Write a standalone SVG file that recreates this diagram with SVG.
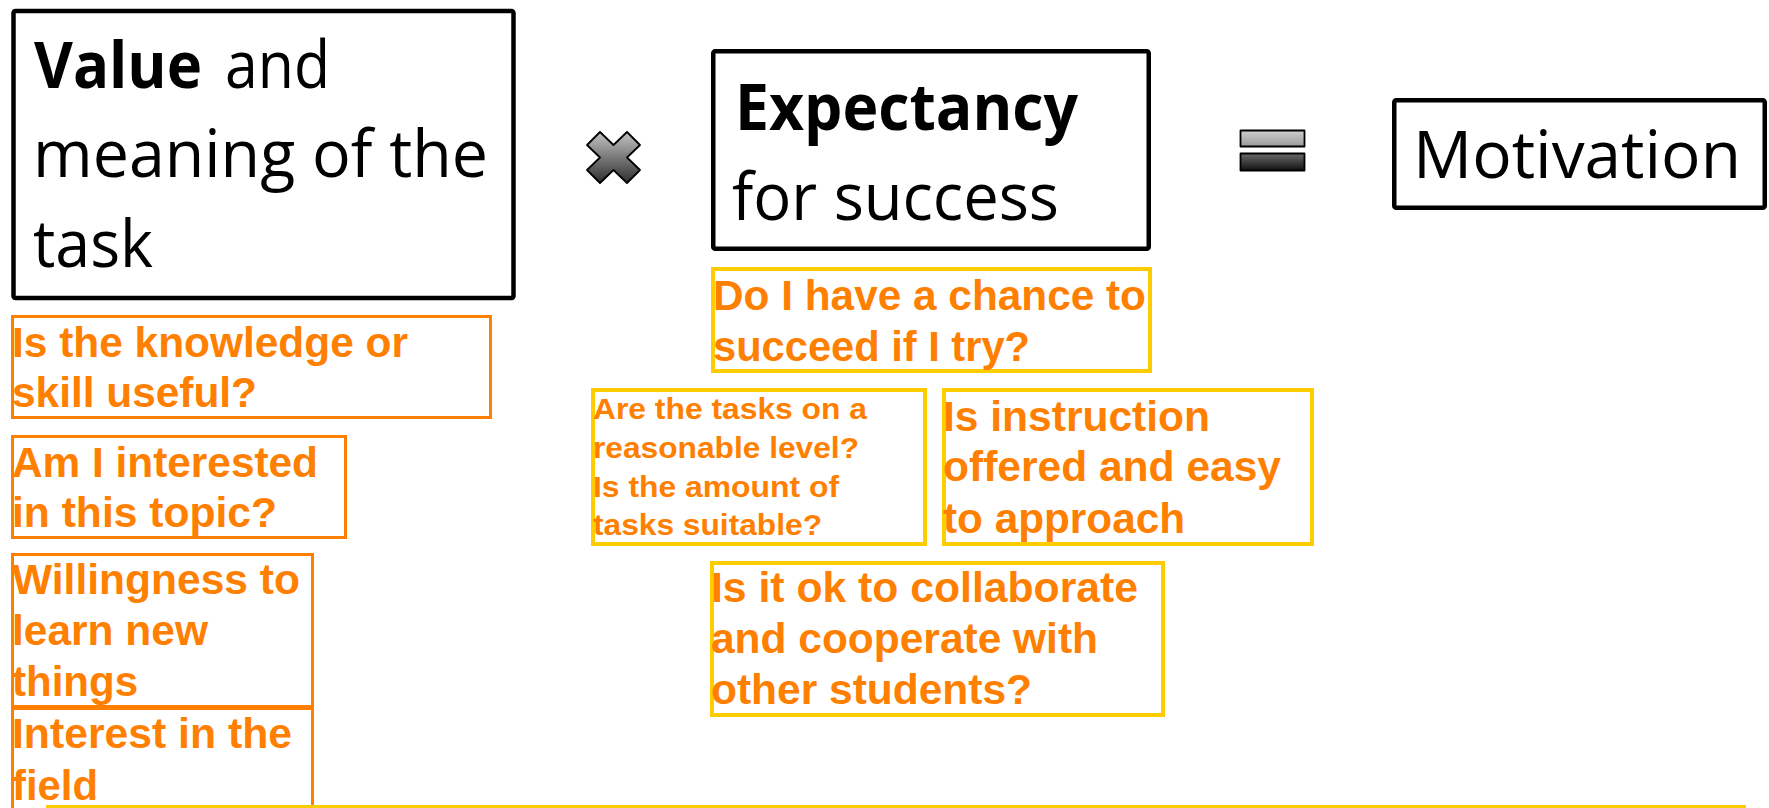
<svg xmlns="http://www.w3.org/2000/svg" width="1769" height="808" viewBox="0 0 1769 808">
  <style>
    .main { fill: #ffffff; stroke: #000000; stroke-width: 4.5; }
    .ask { fill: #ffffff; stroke: #ff8000; stroke-width: 3; }
    .hint { fill: #ffffff; stroke: #ffcc00; stroke-width: 4; }
    .big { font-family: "Open Sans", "Noto Sans", sans-serif; font-size: 65px; fill: #000000; }
    .big .b { font-weight: 700; }
    .q { font-family: "Liberation Sans", Arial, sans-serif; font-weight: 700; font-size: 42px; fill: #ff8000; }
    .qs { font-size: 30px; }
    .op { stroke: #000000; stroke-width: 1.8; stroke-linejoin: round; }
  </style>
  <defs>
    <linearGradient id="gCross" x1="0" y1="0" x2="0" y2="1">
      <stop offset="0" stop-color="#c4c4c4"/>
      <stop offset="1" stop-color="#2e2e2e"/>
    </linearGradient>
    <linearGradient id="gBarLight" x1="0" y1="0" x2="0" y2="1">
      <stop offset="0" stop-color="#cfcfcf"/>
      <stop offset="1" stop-color="#9a9a9a"/>
    </linearGradient>
    <linearGradient id="gBarDark" x1="0" y1="0" x2="0" y2="1">
      <stop offset="0" stop-color="#6a6a6a"/>
      <stop offset="1" stop-color="#111111"/>
    </linearGradient>
  </defs>

  <rect width="1769" height="808" fill="#ffffff"/>

  <!-- Value -->
  <g id="value">
    <rect class="main" x="13.5" y="11" width="500" height="287" rx="2"/>
    <text class="big" y="88"><tspan class="b" x="34" textLength="168" lengthAdjust="spacingAndGlyphs">Value</tspan><tspan x="225" textLength="105" lengthAdjust="spacingAndGlyphs">and</tspan></text>
    <text class="big" x="33" y="177" textLength="455" lengthAdjust="spacingAndGlyphs">meaning of the</text>
    <text class="big" x="33" y="267" textLength="120" lengthAdjust="spacingAndGlyphs">task</text>
  </g>

  <!-- multiplication sign -->
  <g id="times">
    <path class="op" fill="url(#gCross)" d="M600,132 L613.5,145 L627,132 L640,145 L627,157.5 L640,170 L627,183 L613.5,170 L600,183 L587,170 L600,157.5 L587,145 Z"/>
  </g>

  <!-- Expectancy -->
  <g id="expectancy">
    <rect class="main" x="713.25" y="51.25" width="435.5" height="197.5" rx="2"/>
    <text class="big" x="735" y="130" font-weight="700" textLength="343" lengthAdjust="spacingAndGlyphs">Expectancy</text>
    <text class="big" x="732" y="220" textLength="327" lengthAdjust="spacingAndGlyphs">for success</text>
  </g>

  <!-- equals sign -->
  <g id="equals">
    <rect class="op" fill="url(#gBarLight)" x="1240.5" y="130.5" width="64" height="16"/>
    <rect class="op" fill="url(#gBarDark)" x="1240.5" y="153.5" width="64" height="17"/>
  </g>

  <!-- Motivation -->
  <g id="motivation">
    <rect class="main" x="1394.25" y="100.25" width="370.5" height="107.5" rx="2"/>
    <text class="big" x="1413" y="178" textLength="328" lengthAdjust="spacingAndGlyphs">Motivation</text>
  </g>

  <!-- questions on value -->
  <g id="useful">
    <rect class="ask" x="12.5" y="316.5" width="478" height="101"/>
    <text class="q" x="12" y="357" textLength="396" lengthAdjust="spacingAndGlyphs">Is the knowledge or</text>
    <text class="q" x="12" y="407" textLength="245" lengthAdjust="spacingAndGlyphs">skill useful?</text>
  </g>
  <g id="interested">
    <rect class="ask" x="12.5" y="436.5" width="333" height="101"/>
    <text class="q" x="12" y="477" textLength="306" lengthAdjust="spacingAndGlyphs">Am I interested</text>
    <text class="q" x="12" y="527" textLength="265" lengthAdjust="spacingAndGlyphs">in this topic?</text>
  </g>
  <g id="willingness">
    <rect class="ask" x="12.5" y="554.5" width="300" height="152"/>
    <text class="q" x="12" y="594" textLength="288" lengthAdjust="spacingAndGlyphs">Willingness to</text>
    <text class="q" x="12" y="645" textLength="196" lengthAdjust="spacingAndGlyphs">learn new</text>
    <text class="q" x="12" y="696" textLength="126" lengthAdjust="spacingAndGlyphs">things</text>
  </g>
  <g id="field">
    <rect class="ask" x="12.5" y="708.5" width="300" height="130"/>
    <text class="q" x="12" y="748" textLength="280" lengthAdjust="spacingAndGlyphs">Interest in the</text>
    <text class="q" x="12" y="800" textLength="86" lengthAdjust="spacingAndGlyphs">field</text>
  </g>

  <!-- questions on expectancy -->
  <g id="chance">
    <rect class="hint" x="713" y="269" width="437" height="102"/>
    <text class="q" x="713" y="310" textLength="433" lengthAdjust="spacingAndGlyphs">Do I have a chance to</text>
    <text class="q" x="713" y="361" textLength="317" lengthAdjust="spacingAndGlyphs">succeed if I try?</text>
  </g>
  <g id="level">
    <rect class="hint" x="593" y="390" width="332" height="154"/>
    <text class="q qs" x="593" y="419" textLength="274" lengthAdjust="spacingAndGlyphs">Are the tasks on a</text>
    <text class="q qs" x="593" y="458" textLength="266" lengthAdjust="spacingAndGlyphs">reasonable level?</text>
    <text class="q qs" x="593" y="497" textLength="246" lengthAdjust="spacingAndGlyphs">Is the amount of</text>
    <text class="q qs" x="593" y="535" textLength="229" lengthAdjust="spacingAndGlyphs">tasks suitable?</text>
  </g>
  <g id="instruction">
    <rect class="hint" x="944" y="390" width="368" height="154"/>
    <text class="q" x="943" y="431" textLength="267" lengthAdjust="spacingAndGlyphs">Is instruction</text>
    <text class="q" x="943" y="481" textLength="338" lengthAdjust="spacingAndGlyphs">offered and easy</text>
    <text class="q" x="943" y="533" textLength="242" lengthAdjust="spacingAndGlyphs">to approach</text>
  </g>
  <g id="collaborate">
    <rect class="hint" x="712" y="563" width="451" height="152"/>
    <text class="q" x="711" y="602" textLength="427" lengthAdjust="spacingAndGlyphs">Is it ok to collaborate</text>
    <text class="q" x="711" y="653" textLength="387" lengthAdjust="spacingAndGlyphs">and cooperate with</text>
    <text class="q" x="711" y="704" textLength="321" lengthAdjust="spacingAndGlyphs">other students?</text>
  </g>

  <!-- bottom rule -->
  <g id="rule">
    <rect x="46" y="805" width="1700" height="4" fill="#ffcc00"/>
  </g>
</svg>
